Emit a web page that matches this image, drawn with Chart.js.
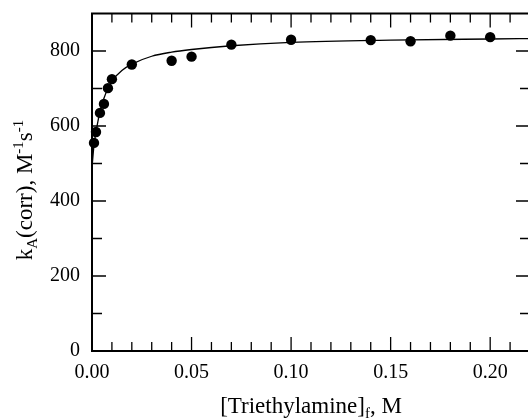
<!DOCTYPE html>
<html>
<head>
<meta charset="utf-8">
<script src="https://cdn.jsdelivr.net/npm/chart.js@4.4.0/dist/chart.umd.min.js"></script>
<style>
  html, body { margin: 0; padding: 0; background: #fff; overflow: hidden; }
  canvas { display: block; }
</style>
</head>
<body>
<canvas id="kChart" width="540" height="418"></canvas>
<script>
// measured points
const concX = [0.001, 0.002, 0.004, 0.006, 0.008, 0.010, 0.020, 0.040, 0.050, 0.070, 0.100, 0.140, 0.160, 0.180, 0.200];
const kValues = [555, 584, 635, 659, 701, 725, 764, 774, 785, 817, 830, 829, 826, 841, 837];

// fitted curve
const fitX = [0, 0.001, 0.002, 0.003, 0.004, 0.006, 0.008, 0.010, 0.015, 0.020, 0.030, 0.040, 0.050, 0.070, 0.100, 0.150, 0.200, 0.220];
const fitY = [490, 548, 584, 613, 638, 674, 700, 720, 748, 765, 786, 797, 804, 814, 823, 829, 832, 833];

const xMajorTicks = [0, 0.05, 0.10, 0.15, 0.20];
const xMinorTicks = [0.01, 0.02, 0.03, 0.04, 0.06, 0.07, 0.08, 0.09, 0.11, 0.12, 0.13, 0.14, 0.16, 0.17, 0.18, 0.19, 0.21];
const yMajorTicks = [0, 200, 400, 600, 800];
const yMinorTicks = [100, 300, 500, 700];

const FONT = "'Liberation Serif', 'Times New Roman', serif";

// draw text made of normal / sub / sup pieces, centred on (0,0)
function drawRich(ctx, parts, size) {
  const small = size * 0.65;
  let total = 0;
  parts.forEach(p => {
    ctx.font = (p.sub || p.sup ? small : size) + 'px ' + FONT;
    p.w = ctx.measureText(p.t).width;
    total += p.w;
  });
  let x = -total / 2;
  parts.forEach(p => {
    ctx.font = (p.sub || p.sup ? small : size) + 'px ' + FONT;
    let dy = 0;
    if (p.sub) dy = size * 0.22;
    if (p.sup) dy = -size * 0.4;
    ctx.fillText(p.t, x, dy);
    x += p.w;
  });
}

const framePlugin = {
  id: 'frame',
  beforeDatasetsDraw(chart) {
    const ctx = chart.ctx;
    const a = chart.chartArea;
    const xs = chart.scales.x;
    const ys = chart.scales.y;
    ctx.save();
    ctx.strokeStyle = '#000';
    ctx.lineWidth = 1.3;
    ctx.beginPath();
    const xt = (list, len) => list.forEach(v => {
      const px = xs.getPixelForValue(v);
      ctx.moveTo(px, a.bottom); ctx.lineTo(px, a.bottom - len);
      ctx.moveTo(px, a.top); ctx.lineTo(px, a.top + len);
    });
    const yt = (list, len) => list.forEach(v => {
      const py = ys.getPixelForValue(v);
      ctx.moveTo(a.left, py); ctx.lineTo(a.left + len, py);
      ctx.moveTo(a.right, py); ctx.lineTo(a.right - len, py);
    });
    xt(xMajorTicks, 14);
    xt(xMinorTicks, 9);
    yt(yMajorTicks, 14);
    yt(yMinorTicks, 10);
    ctx.stroke();
    ctx.lineWidth = 2;
    ctx.strokeRect(a.left, a.top, a.right - a.left, a.bottom - a.top);
    ctx.restore();
  },
  afterDraw(chart) {
    const ctx = chart.ctx;
    ctx.save();
    ctx.fillStyle = '#000';
    ctx.textBaseline = 'alphabetic';
    ctx.textAlign = 'left';
    ctx.translate(311, 413);
    drawRich(ctx, [{ t: '[Triethylamine]' }, { t: 'f', sub: true }, { t: ', M' }], 23);
    ctx.restore();

    ctx.save();
    ctx.fillStyle = '#000';
    ctx.textBaseline = 'alphabetic';
    ctx.textAlign = 'left';
    ctx.translate(32, 190);
    ctx.rotate(-Math.PI / 2);
    drawRich(ctx, [
      { t: 'k' }, { t: 'A', sub: true }, { t: '(corr), M' },
      { t: '-1', sup: true }, { t: 's' }, { t: '-1', sup: true }
    ], 23);
    ctx.restore();
  }
};

const ctx = document.getElementById('kChart').getContext('2d');
new Chart(ctx, {
  type: 'scatter',
  data: {
    datasets: [
      {
        label: 'fit',
        data: fitX.map((x, i) => ({ x: x, y: fitY[i] })),
        showLine: true,
        borderColor: '#000',
        borderWidth: 1.3,
        pointRadius: 0,
        cubicInterpolationMode: 'monotone',
        order: 2
      },
      {
        label: 'kA',
        data: concX.map((x, i) => ({ x: x, y: kValues[i] })),
        backgroundColor: '#000',
        borderColor: '#000',
        pointRadius: 5.2,
        pointBorderWidth: 0,
        order: 1
      }
    ]
  },
  options: {
    responsive: false,
    animation: false,
    clip: false,
    layout: { padding: { top: 13.5, right: 10, left: 0, bottom: 0 } },
    plugins: {
      legend: { display: false },
      tooltip: { enabled: false }
    },
    scales: {
      x: {
        type: 'linear',
        min: 0,
        max: 0.22,
        afterFit: scale => {
          scale.height = 67;
          scale.paddingLeft = 0;
          scale.paddingRight = 0;
        },
        afterBuildTicks: scale => { scale.ticks = xMajorTicks.map(v => ({ value: v })); },
        grid: { display: false, drawTicks: false },
        border: { display: false },
        ticks: {
          padding: 10,
          color: '#000',
          maxRotation: 0,
          font: { family: FONT, size: 20 },
          callback: v => v.toFixed(2)
        }
      },
      y: {
        type: 'linear',
        min: 0,
        max: 900,
        afterFit: scale => {
          scale.width = 92;
          scale.paddingTop = 0;
          scale.paddingBottom = 0;
        },
        afterBuildTicks: scale => { scale.ticks = yMajorTicks.map(v => ({ value: v })); },
        grid: { display: false, drawTicks: false },
        border: { display: false },
        ticks: {
          padding: 12,
          color: '#000',
          font: { family: FONT, size: 20 },
          callback: v => String(v)
        }
      }
    }
  },
  plugins: [framePlugin]
});
</script>
</body>
</html>
